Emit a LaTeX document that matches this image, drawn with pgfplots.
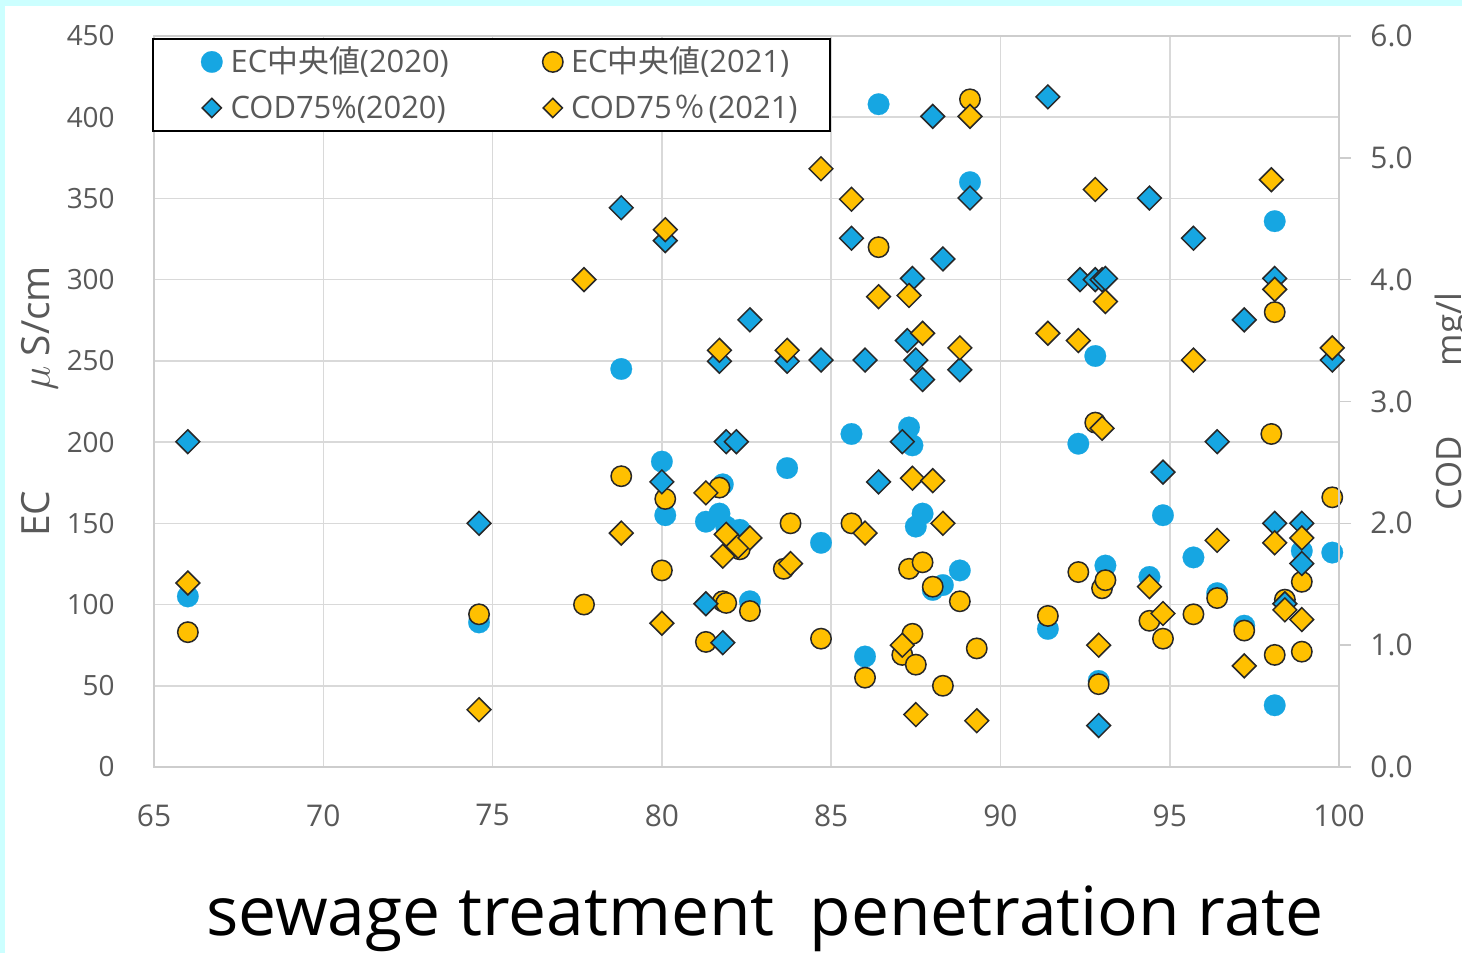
\documentclass[border=0pt]{standalone}
\usepackage{fontspec}
\setmainfont{Open Sans}
\newfontfamily\cjk{Noto Sans CJK JP}
\usepackage{pgfplots}
\usepackage{pgfplotstable}
\pgfplotsset{compat=1.18}

\definecolor{ecblue}{RGB}{22,166,226}
\definecolor{ecgold}{RGB}{255,192,0}
\definecolor{labelgray}{RGB}{89,89,89}
\definecolor{gridgray}{RGB}{217,217,217}
\definecolor{axisgray}{RGB}{205,205,205}
\definecolor{markedge}{RGB}{40,40,40}
\definecolor{pagecyan}{RGB}{204,255,255}

% EC median, uS/cm
\pgfplotstableread{
x ec
66.0 105
74.6 89
78.8 245
80.0 188
80.1 155
81.3 151
81.7 156
81.8 174
81.9 148
82.3 146
82.6 102
83.7 184
84.7 138
85.6 205
86.0 68
86.4 408
87.3 209
87.4 198
87.5 148
87.7 156
88.0 109
88.3 112
88.8 121
89.1 360
91.4 85
92.3 199
92.8 253
92.9 53
93.1 124
94.4 117
94.8 155
95.7 129
96.4 107
97.2 87
98.1 336
98.1 38
98.9 133
99.8 132
}\ectwenty

\pgfplotstableread{
x ec
66.0 83
74.6 94
77.7 100
78.8 179
80.0 121
80.1 165
81.3 77
81.7 172
81.8 102
81.9 101
82.3 134
82.6 96
83.6 122
83.8 150
84.7 79
85.6 150
86.0 55
86.4 320
87.1 69
87.3 122
87.4 82
87.5 63
87.7 126
88.0 111
88.3 50
88.8 102
89.1 411
89.3 73
91.4 93
92.3 120
92.8 212
92.9 51
93.0 110
93.1 115
94.4 90
94.8 79
95.7 94
96.4 104
97.2 84
98.0 205
98.1 280
98.1 69
98.4 103
98.9 114
98.9 71
99.8 166
}\ectwentyone

% COD 75% value, mg/l
\pgfplotstableread{
x cod
66.0 2.67
74.6 2.00
78.8 4.59
80.0 2.34
80.1 4.32
81.3 1.34
81.7 3.33
81.8 1.02
81.9 2.67
82.2 2.67
82.6 3.67
83.7 3.33
84.7 3.34
85.6 4.34
86.0 3.34
86.4 2.34
87.1 2.67
87.25 3.50
87.4 4.01
87.5 3.34
87.7 3.18
88.0 5.34
88.3 4.17
88.8 3.26
89.1 4.67
91.4 5.50
92.35 4.00
92.8 4.00
93.0 4.00
93.1 4.01
92.9 0.34
94.4 4.67
94.8 2.42
95.7 4.34
96.4 2.67
97.2 3.67
98.1 4.01
98.1 2.00
98.4 1.34
98.9 2.00
98.9 1.67
99.8 3.34
}\codtwenty

\pgfplotstableread{
x cod
66.0 1.51
74.6 0.47
77.7 4.00
78.8 1.92
80.0 1.18
80.1 4.41
81.3 2.25
81.7 3.42
81.8 1.73
81.9 1.91
82.25 1.81
82.6 1.88
83.7 3.42
83.8 1.67
84.7 4.91
85.6 4.66
86.0 1.92
86.4 3.86
87.1 1.00
87.3 3.87
87.4 2.37
87.5 0.43
87.7 3.56
88.0 2.35
88.3 2.00
88.8 3.44
89.1 5.34
89.3 0.38
91.4 3.56
92.3 3.50
92.8 4.74
92.9 1.00
93.0 2.78
93.1 3.82
94.4 1.48
94.8 1.26
95.7 3.34
96.4 1.86
97.2 0.83
98.0 4.82
98.1 3.92
98.1 1.84
98.4 1.29
98.9 1.88
98.9 1.21
99.8 3.44
}\codtwentyone

\pgfplotsset{
  common/.style={
    scale only axis, width=592.5bp, height=365.5bp,
    at={(77bp,93bp)}, anchor=south west,
    xmin=65, xmax=100,
    /pgf/number format/assume math mode=true,
    clip=false,
  },
  blueDot/.style={only marks, mark=*, mark size=5.4bp,
    mark options={fill=ecblue, draw=ecblue, line width=0.1bp}},
  goldDot/.style={only marks, mark=*, mark size=5.1bp,
    mark options={fill=ecgold, draw=markedge, line width=0.75bp}},
  blueDiamond/.style={only marks, mark=square*, mark size=#1,
    mark options={rotate=45, fill=ecblue, draw=markedge, line width=0.75bp}},
  goldDiamond/.style={only marks, mark=square*, mark size=#1,
    mark options={rotate=45, fill=ecgold, draw=markedge, line width=0.75bp}},
}

\begin{document}
\begin{tikzpicture}[x=0.5bp,y=0.5bp]
\useasboundingbox (0,0) rectangle (1462,953);
\clip (0,0) rectangle (1462,953);
\fill[pagecyan] (0,0) rectangle (1462,953);
\fill[white] (5,0) rectangle (1462,947);

% left axis: EC
\begin{axis}[common,
  ymin=0, ymax=450,
  axis line style={axisgray, line width=0.75bp},
  xtick={65,70,...,100}, ytick={0,50,...,450},
  grid=major, grid style={gridgray, line width=0.75bp},
  major tick length=0pt,
  xticklabel style={font=\fontsize{15}{18}\selectfont, text=labelgray,
    inner sep=0pt, anchor=north, yshift=-18.5bp},
  yticklabel style={font=\fontsize{14}{17}\selectfont, text=labelgray,
    inner sep=0pt, anchor=east, xshift=-19.5bp},
  ylabel={EC\hspace{50bp}$\mu$ S/cm},
  ylabel style={at={(axis description cs:-0.1122,0.5)}, anchor=north,
    font=\fontsize{19.5}{23}\selectfont, text=labelgray, inner sep=0pt},
]
\addplot[blueDot] table[x=x, y=ec] {\ectwenty};
\addplot[goldDot] table[x=x, y=ec] {\ectwentyone};
\end{axis}

% right axis: COD
\begin{axis}[common,
  ymin=0, ymax=6,
  axis x line=none, axis y line*=right,
  y axis line style={axisgray, line width=0.75bp, -},
  ytick={0,1,...,6},
  tick align=outside, major tick length=6bp,
  every tick/.style={axisgray, line width=0.75bp},
  yticklabel style={font=\fontsize{15}{18}\selectfont, text=labelgray,
    inner sep=0pt, anchor=west, xshift=9.5bp,
    /pgf/number format/.cd, fixed, fixed zerofill, precision=1},
  ylabel={COD\hspace{35bp}mg/l},
  ylabel style={at={(axis description cs:1.081,0.5)}, anchor=north,
    font=\fontsize{17.5}{21}\selectfont, text=labelgray, inner sep=0pt},
  legend columns=2,
  legend cell align=left,
  legend style={at={(axis description cs:-0.0017,0.9973)}, anchor=north west,
    draw=black, line width=1bp, fill=white,
    font=\fontsize{15.5}{18}\selectfont, text=labelgray,
    inner xsep=24bp, inner ysep=4bp, row sep=8bp,
    nodes={inner sep=0pt, text height=13bp, text depth=2bp},
    /tikz/every odd column/.append style={column sep=4bp},
    /tikz/every even column/.append style={column sep=0pt}},
]
\addlegendimage{blueDot}
\addlegendentry{\makebox[156bp][l]{EC{\cjk 中央値}(2020)}}
\addlegendimage{goldDot}
\addlegendentry{\makebox[105.5bp][l]{EC{\cjk 中央値}(2021)}}
\addlegendimage{blueDiamond=3.4bp}
\addlegendentry{\makebox[156bp][l]{COD75\%(2020)}}
\addlegendimage{goldDiamond=3.4bp}
\addlegendentry{\makebox[105.5bp][l]{COD75{\cjk\hspace{1.5bp}％\hspace{1.5bp}}(2021)}}

\addplot[blueDiamond=4.2bp, forget plot] table[x=x, y=cod] {\codtwenty};
\addplot[goldDiamond=4.2bp, forget plot] table[x=x, y=cod] {\codtwentyone};
\end{axis}

\node[font=\fontsize{34}{40}\selectfont, text=black, anchor=base]
  at (765,18) {sewage treatment\ \ penetration rate};
\end{tikzpicture}
\end{document}
